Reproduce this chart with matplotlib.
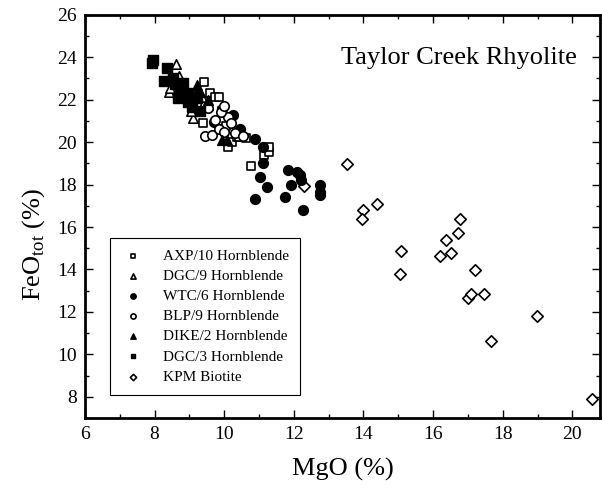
import matplotlib.pyplot as plt
from matplotlib.ticker import MultipleLocator

plt.rcParams['font.family'] = ['Liberation Serif', 'DejaVu Serif']

# AXP/10 hornblende (open squares)
axp_mgo = [9.42, 9.59, 9.74, 9.85, 9.40, 10.12, 10.22, 10.36, 10.43, 10.63, 10.77, 11.15, 11.30, 11.30, 9.95, 10.05]
axp_feo = [22.85, 22.31, 22.15, 22.12, 20.89, 19.79, 20.02, 20.26, 20.26, 20.21, 18.88, 19.40, 19.55, 19.76, 21.45, 20.75]

# DGC/9 hornblende (open triangles)
dgc9_mgo = [8.61, 8.71, 8.42, 8.45, 9.11, 9.35, 9.55, 9.05]
dgc9_feo = [23.69, 23.12, 22.38, 22.55, 21.13, 22.15, 21.75, 21.45]

# WTC/6 hornblende (filled circles)
wtc_mgo = [10.89, 11.12, 11.11, 11.03, 11.22, 10.89, 11.84, 12.08, 12.18, 12.22,
           11.91, 11.75, 12.27, 12.75, 12.75, 12.75, 9.95, 10.25, 10.45, 9.70]
wtc_feo = [20.14, 19.79, 19.00, 18.34, 17.90, 17.31, 18.67, 18.61, 18.45, 18.22,
           17.98, 17.43, 16.80, 17.98, 17.67, 17.51, 21.55, 21.30, 20.60, 20.95]

# BLP/9 hornblende (open circles)
blp_mgo = [9.45, 9.65, 9.75, 9.85, 10.00, 10.10, 10.20, 9.90, 10.30, 10.55, 9.55, 10.00, 9.20]
blp_feo = [20.30, 20.35, 21.05, 20.60, 20.50, 21.20, 20.90, 21.40, 20.45, 20.30, 21.60, 21.70, 21.80]

# DIKE/2 hornblende (filled triangles)
dike_mgo = [9.21, 9.26, 9.30, 9.93, 10.07, 9.55, 9.10]
dike_feo = [22.70, 22.46, 22.38, 20.10, 20.10, 22.00, 22.20]

# DGC/3 hornblende (filled squares)
dgc3_mgo = [7.96, 7.94, 8.37, 8.28, 8.54, 8.83, 8.73, 8.92, 8.68, 8.97, 9.07, 9.21, 8.60, 9.30]
dgc3_feo = [23.88, 23.72, 23.51, 22.89, 23.00, 22.78, 22.46, 22.31, 22.07, 21.91, 21.67, 22.07, 22.75, 21.45]

# KPM biotite (open diamonds)
kpm_mgo = [13.54, 12.29, 14.00, 13.96, 14.38, 15.09, 15.05, 16.21, 16.52, 16.37,
           16.71, 16.76, 17.21, 16.99, 17.09, 17.46, 17.67, 18.98, 20.57]
kpm_feo = [18.97, 17.93, 16.82, 16.39, 17.10, 14.88, 13.78, 14.65, 14.76, 15.39,
           15.73, 16.36, 13.97, 12.65, 12.83, 12.84, 10.64, 11.83, 7.92]

fig = plt.figure(figsize=(6.02, 4.93), dpi=100)
ax = fig.add_axes([0.141, 0.152, 0.856, 0.818])

lw = 1.2
ax.scatter(kpm_mgo, kpm_feo, s=34, marker='D', facecolors='white', edgecolors='black', linewidths=lw, label='KPM Biotite', zorder=2)
ax.scatter(axp_mgo, axp_feo, s=40, marker='s', facecolors='white', edgecolors='black', linewidths=lw, label='AXP/10 Hornblende', zorder=3)
ax.scatter(dgc9_mgo, dgc9_feo, s=46, marker='^', facecolors='white', edgecolors='black', linewidths=lw, label='DGC/9 Hornblende', zorder=3)
ax.scatter(wtc_mgo, wtc_feo, s=50, marker='o', color='black', label='WTC/6 Hornblende', zorder=3)
ax.scatter(blp_mgo, blp_feo, s=46, marker='o', facecolors='white', edgecolors='black', linewidths=lw, label='BLP/9 Hornblende', zorder=3)
ax.scatter(dike_mgo, dike_feo, s=50, marker='^', color='black', label='DIKE/2 Hornblende', zorder=3)
ax.scatter(dgc3_mgo, dgc3_feo, s=42, marker='s', color='black', label='DGC/3 Hornblende', zorder=3)

ax.set_xlim(6, 20.8)
ax.set_ylim(7, 26)
ax.xaxis.set_major_locator(MultipleLocator(2))
ax.xaxis.set_minor_locator(MultipleLocator(1))
ax.yaxis.set_major_locator(MultipleLocator(2))
ax.yaxis.set_minor_locator(MultipleLocator(1))
ax.tick_params(which='both', direction='in', top=True, right=True, labelsize=14, width=1)
ax.tick_params(which='major', length=6, pad=6)
ax.tick_params(which='minor', length=3)
for sp in ax.spines.values():
    sp.set_linewidth(2)

ax.set_xlabel('MgO (%)', fontsize=19)
ax.xaxis.set_label_coords(0.5, -0.1)
ax.set_ylabel(r'FeO$_{\mathregular{tot}}$ (%)', fontsize=19)
ax.yaxis.set_label_coords(-0.074, 0.43)

ax.text(0.955, 0.893, 'Taylor Creek Rhyolite', transform=ax.transAxes, ha='right', va='center', fontsize=19)

handles, labels = ax.get_legend_handles_labels()
order = [1, 2, 3, 4, 5, 6, 0]
leg = ax.legend([handles[i] for i in order], [labels[i] for i in order],
                loc='lower left', bbox_to_anchor=(0.049, 0.057), borderaxespad=0,
                fontsize=11, markerscale=0.55, handletextpad=1.2, labelspacing=0.42,
                fancybox=False, edgecolor='black', framealpha=1, borderpad=0.75, handlelength=1.5)
leg.get_frame().set_linewidth(0.8)

fig.savefig('out.png', dpi=100)
